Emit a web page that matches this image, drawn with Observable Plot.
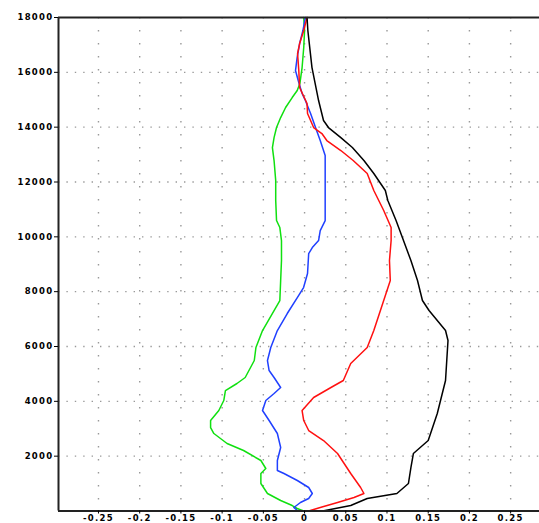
<!DOCTYPE html>
<html>
<head>
<meta charset="utf-8">
<script src="https://cdn.jsdelivr.net/npm/d3@7"></script>
<script src="https://cdn.jsdelivr.net/npm/@observablehq/plot@0.6"></script>
<style>
  html, body { margin: 0; padding: 0; background: #fff; }
</style>
</head>
<body>
<div id="chart"></div>
<script>
// Tick values / labels
const xTicks = [-0.25, -0.2, -0.15, -0.1, -0.05, 0, 0.05, 0.1, 0.15, 0.2, 0.25];
const xTickLabels = ["-0.25", "-0.2", "-0.15", "-0.1", "-0.05", "0", "0.05", "0.1", "0.15", "0.2", "0.25"];
const yTicks = [2000, 4000, 6000, 8000, 10000, 12000, 14000, 16000, 18000];

// Series 1 (black)
const blackH = [18000, 17524, 16174, 14971, 14242, 13986, 13621, 13257, 12783, 12309, 11689, 11324, 10594, 9865, 9136, 8406, 7677, 7312, 6583, 6218, 4759, 3556, 2571, 2097, 1586, 1003, 638, 456, 200, 18, 0];
const blackV = [0.003, 0.004, 0.009, 0.017, 0.023, 0.029, 0.044, 0.058, 0.072, 0.084, 0.098, 0.101, 0.111, 0.120, 0.129, 0.137, 0.143, 0.151, 0.171, 0.174, 0.171, 0.161, 0.150, 0.132, 0.129, 0.126, 0.112, 0.076, 0.056, 0.025, 0.022];

// Series 2 (red)
const redH = [18000, 17524, 17050, 16685, 16065, 15445, 14862, 14497, 13986, 13768, 13512, 13148, 12783, 12309, 11689, 10959, 10339, 9865, 9136, 8406, 7677, 6583, 5963, 5379, 4759, 4504, 4139, 3665, 3300, 2936, 2571, 2097, 1368, 857, 638, 492, 310, 128, 18, 0];
const redV = [0.003, -0.001, -0.006, -0.0085, -0.007, -0.006, 0.003, 0.0036, 0.011, 0.021, 0.027, 0.044, 0.059, 0.076, 0.084, 0.096, 0.105, 0.105, 0.103, 0.104, 0.096, 0.084, 0.076, 0.056, 0.047, 0.032, 0.011, -0.003, -0.001, 0.005, 0.023, 0.040, 0.056, 0.068, 0.072, 0.060, 0.040, 0.019, 0.007, 0.005];

// Series 3 (blue)
const blueH = [18000, 17524, 17050, 16539, 16065, 15700, 15226, 14971, 14497, 13986, 13512, 12965, 12054, 11324, 10594, 10229, 9865, 9610, 9391, 8662, 8151, 7786, 7203, 6583, 5963, 5489, 5124, 4869, 4504, 4285, 4030, 3665, 3300, 2826, 2316, 1842, 1477, 1368, 1112, 857, 638, 456, 310, 128, 0];
const blueV = [0.001, -0.002, -0.006, -0.009, -0.011, -0.0077, -0.003, 0.001, 0.0073, 0.0133, 0.019, 0.025, 0.025, 0.025, 0.025, 0.019, 0.017, 0.0094, 0.005, 0.0036, -0.0012, -0.0088, -0.021, -0.033, -0.041, -0.045, -0.043, -0.037, -0.029, -0.037, -0.047, -0.051, -0.043, -0.033, -0.029, -0.033, -0.033, -0.025, -0.0088, 0.005, 0.0094, 0.005, -0.005, -0.013, -0.008];

// Series 4 (green)
const greenH = [18000, 17524, 16904, 16174, 15591, 15336, 15080, 14716, 14351, 13986, 13621, 13257, 12783, 12054, 11324, 10594, 10339, 9865, 9136, 8406, 7677, 7312, 6583, 5963, 5489, 4869, 4650, 4394, 4030, 3665, 3300, 3045, 2826, 2462, 2206, 1842, 1550, 1368, 1003, 638, 383, 200, 91, 0];
const greenV = [-0.001, 0.0, -0.001, -0.003, -0.0057, -0.0089, -0.015, -0.023, -0.029, -0.034, -0.037, -0.039, -0.037, -0.035, -0.035, -0.034, -0.030, -0.028, -0.028, -0.029, -0.030, -0.037, -0.051, -0.059, -0.061, -0.072, -0.082, -0.096, -0.098, -0.104, -0.114, -0.114, -0.110, -0.094, -0.074, -0.053, -0.047, -0.053, -0.053, -0.045, -0.029, -0.015, -0.009, -0.001];

const seriesNames = ["S1", "S2", "S3", "S4"];
const seriesColors = ["#000000", "#ff1010", "#2040ff", "#10e010"];

function toRows(name, H, V) {
  return H.map((h, i) => ({ series: name, h, v: V[i] }));
}
const rows = [
  ...toRows("S4", greenH, greenV),
  ...toRows("S3", blueH, blueV),
  ...toRows("S2", redH, redV),
  ...toRows("S1", blackH, blackV)
];

const labelMap = new Map(xTicks.map((t, i) => [t, xTickLabels[i]]));

const chart = Plot.plot({
  width: 539,
  height: 523,
  marginLeft: 58,
  marginRight: 0,
  marginTop: 17,
  marginBottom: 12.5,
  style: {
    fontFamily: "DejaVu Sans",
    fontSize: "8.5px",
    fontWeight: "bold",
    letterSpacing: "1.3px",
    background: "#fff",
    overflow: "visible"
  },
  x: { domain: [-0.2985, 0.285], ticks: xTicks, label: null },
  y: { domain: [0, 18000], ticks: yTicks, label: null },
  color: { domain: seriesNames, range: seriesColors },
  marks: [
    Plot.ruleX(xTicks, { stroke: "#999", strokeWidth: 1.4, strokeDasharray: "1.4,11.6" }),
    Plot.ruleY(yTicks.filter(d => d !== 18000), { stroke: "#999", strokeWidth: 1.4, strokeDasharray: "1.4,7" }),
    Plot.line(rows, { x: "v", y: "h", z: "series", stroke: "series", strokeWidth: 1.5 }),
    Plot.ruleX([-0.2985], { stroke: "#222", strokeWidth: 2 }),
    Plot.ruleY([0], { stroke: "#222", strokeWidth: 2 }),
    Plot.ruleY([18000], { stroke: "#222", strokeWidth: 2.2 }),
    Plot.axisX({ ticks: xTicks, tickSize: 3, tickPadding: 1, tickFormat: d => labelMap.get(d), label: null }),
    Plot.axisY({ ticks: yTicks, tickSize: 4, tickPadding: 1, tickFormat: d => String(d), label: null })
  ]
});
document.getElementById("chart").appendChild(chart);
</script>
</body>
</html>
